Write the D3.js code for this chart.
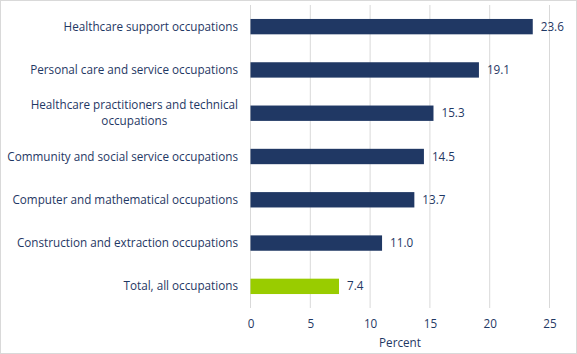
<!DOCTYPE html>
<html>
<head>
<meta charset="utf-8">
<script src="https://cdn.jsdelivr.net/npm/d3@7"></script>
<style>
body{margin:0;background:#fff;}
text{font-family:"Open Sans",sans-serif;}
</style>
</head>
<body>
<script>
var width=577, height=354;
var categories=["Healthcare support occupations","Personal care and service occupations","Healthcare practitioners and technical occupations","Community and social service occupations","Computer and mathematical occupations","Construction and extraction occupations","Total, all occupations"];
var labelLines=[["Healthcare support occupations"],["Personal care and service occupations"],["Healthcare practitioners and technical","occupations"],["Community and social service occupations"],["Computer and mathematical occupations"],["Construction and extraction occupations"],["Total, all occupations"]];
var values=[23.6,19.1,15.3,14.5,13.7,11.0,7.4];
var ticks=[0,5,10,15,20,25];
var navy="#203864", green="#99cc00", txt="#1f3864";
var fs=11.7;

var svg=d3.select("body").append("svg").attr("width",width).attr("height",height);
svg.append("rect").attr("x",0.5).attr("y",0.5).attr("width",width-1).attr("height",height-1)
	.attr("fill","#fff").attr("stroke","#d9d9d9");

var x=d3.scaleLinear().domain([0,25]).range([250.5,549.5]);
var y=d3.scaleBand().domain(categories).range([5,308]).paddingInner(0.645).paddingOuter(0.3225);

// gridlines
svg.selectAll(".grid").data(ticks).enter().append("line")
	.attr("x1",d=>x(d)).attr("x2",d=>x(d)).attr("y1",5).attr("y2",308)
	.attr("stroke","#d9d9d9").attr("stroke-width",1);

svg.selectAll(".bar").data(values).enter().append("rect")
	.attr("x",x(0)).attr("y",(d,i)=>y(categories[i]))
	.attr("width",d=>x(d)-x(0)).attr("height",y.bandwidth())
	.attr("fill",(d,i)=>i==values.length-1?green:navy);

svg.selectAll(".val").data(values).enter().append("text")
	.attr("x",d=>x(d)+8).attr("y",(d,i)=>y(categories[i])+y.bandwidth()/2)
	.attr("dy","0.35em").attr("font-size",fs).attr("fill",txt)
	.text(d=>d.toFixed(1));

// category labels, the long one wrapped and centred under itself
labelLines.forEach(function(lines,i){
	var cy=y(categories[i])+y.bandwidth()/2;
	if(lines.length==1){
		svg.append("text").attr("font-size",fs).attr("fill",txt).attr("text-anchor","end")
			.attr("x",238).attr("y",cy).attr("dy","0.35em").text(lines[0]);
	} else {
		var l1=svg.append("text").attr("font-size",fs).attr("fill",txt).attr("text-anchor","end")
			.attr("x",238).attr("y",cy-8).attr("dy","0.35em").text(lines[0]);
		var w=l1.node().getComputedTextLength();
		svg.append("text").attr("font-size",fs).attr("fill",txt).attr("text-anchor","middle")
			.attr("x",238-w/2).attr("y",cy+8).attr("dy","0.35em").text(lines[1]);
	}
});

var axis=d3.axisBottom(x).tickValues(ticks).tickSize(0).tickPadding(0);
var ax=svg.append("g").attr("transform","translate(0,320)").call(axis);
ax.select(".domain").remove();
ax.selectAll("text").attr("font-size",fs).attr("fill",txt).attr("font-family","Open Sans, sans-serif");

svg.append("text").attr("x",400).attr("y",343).attr("dy","0.35em").attr("text-anchor","middle")
	.attr("font-size",fs).attr("fill",txt).text("Percent");
</script>
</body>
</html>
